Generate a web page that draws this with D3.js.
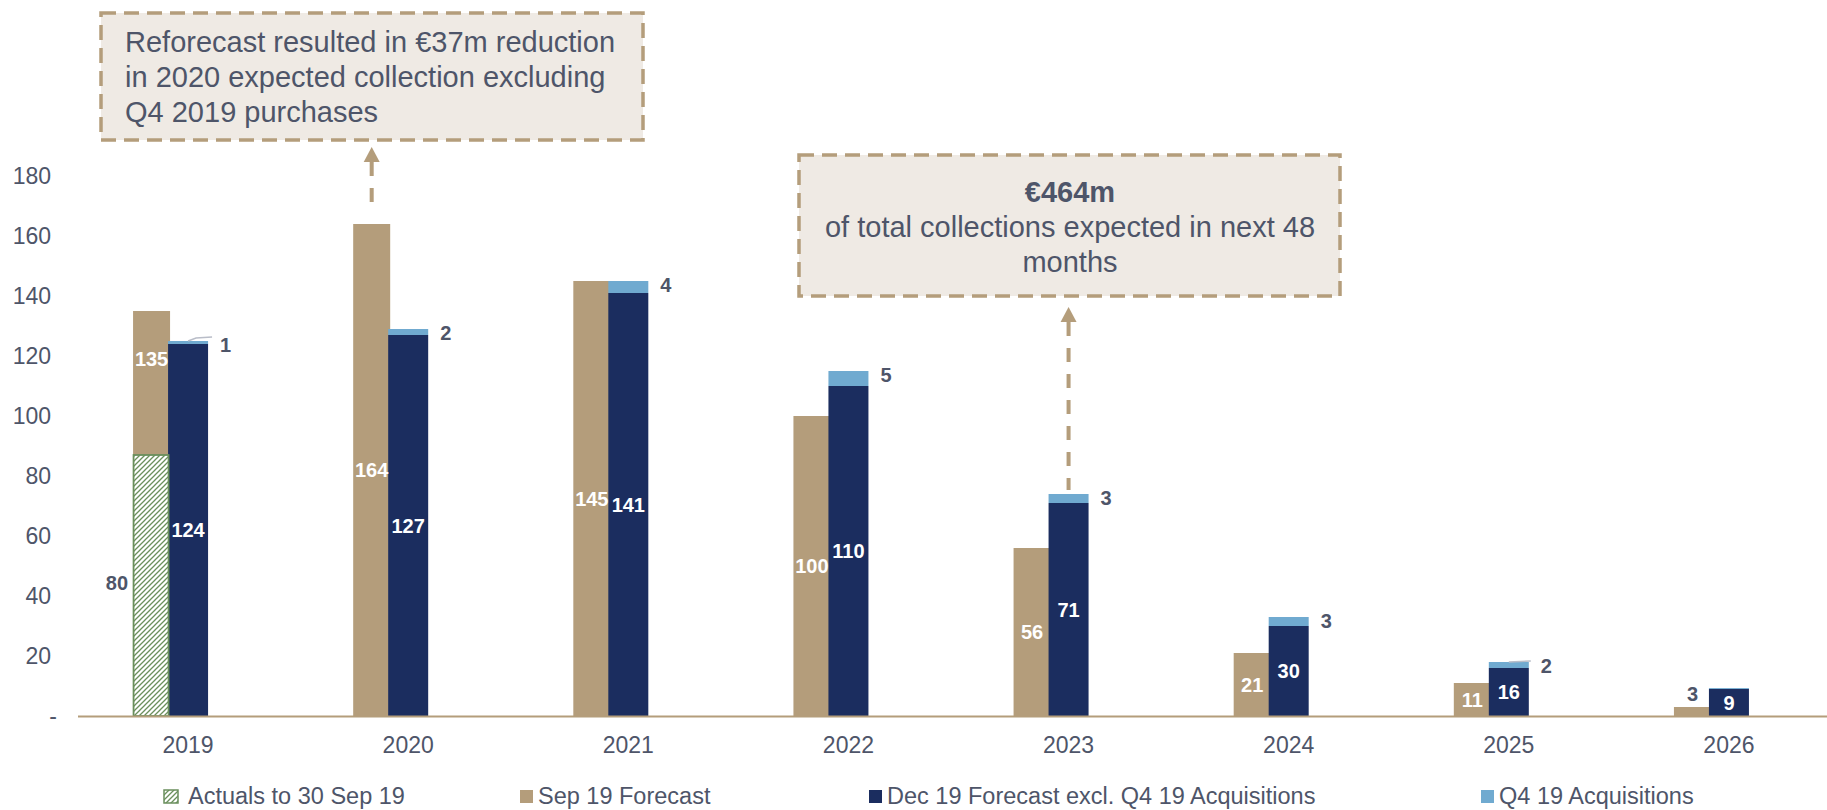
<!DOCTYPE html>
<html>
<head>
<meta charset="utf-8">
<script src="https://cdn.jsdelivr.net/npm/d3@7"></script>
<style>
  body { margin: 0; background: #fff; }
  svg { display: block; font-family: "Liberation Sans", Arial, sans-serif; }
  .tick-lbl { fill: #4e5569; font-size: 23px; }
  .lbl-in { fill: #fff; font-size: 20px; font-weight: bold; }
  .lbl-out { fill: #4e5569; font-size: 20px; font-weight: bold; }
  .note { fill: #4e5569; font-size: 29px; }
  .legend-txt { fill: #4e5569; font-size: 23.5px; }
</style>
</head>
<body>
<div id="chart"></div>
<script>
const years = ['2019', '2020', '2021', '2022', '2023', '2024', '2025', '2026'];
const sepForecast = [135, 164, 145, 100, 56, 21, 11, 3];
const decForecast = [124, 127, 141, 110, 71, 30, 16, 9];
const q4Acq = [1, 2, 4, 5, 3, 3, 2, 0.3];
const q4Labels = ['1', '2', '4', '5', '3', '3', '2', ''];
const actualsValue = [87];       // drawn height of the hatched bar (2019)
const actualsLabel = ['80'];
const yTicks = [0, 20, 40, 60, 80, 100, 120, 140, 160, 180];
const legendNames = ['Actuals to 30 Sep 19', 'Sep 19 Forecast', 'Dec 19 Forecast excl. Q4 19 Acquisitions', 'Q4 19 Acquisitions'];
const note1 = ['Reforecast resulted in €37m reduction', 'in 2020 expected collection excluding', 'Q4 2019 purchases'];
const note2 = ['€464m', 'of total collections expected in next 48', 'months'];

const W = 1827, H = 810;
const tan = '#b49d7b', navy = '#1b2d5f', lightBlue = '#70aad0', green = '#6a8f5c';

let svg = d3.select('#chart').append('svg')
    .attr('width', W)
    .attr('height', H);

let defs = svg.append('defs');
let pat = defs.append('pattern')
    .attr('id', 'hatch')
    .attr('patternUnits', 'userSpaceOnUse')
    .attr('width', 5)
    .attr('height', 5);
pat.append('rect').attr('width', 5).attr('height', 5).attr('fill', '#fff');
pat.append('path')
    .attr('d', 'M0,5 L5,0 M-1,1 L1,-1 M4,6 L6,4')
    .attr('stroke', green)
    .attr('stroke-width', 1.3);

let x = d3.scaleBand().domain(years).range([78, 1839]);
let y = d3.scaleLinear().domain([0, 180]).range([716, 176]);
const cx = d => x(d) + x.bandwidth() / 2;

// y tick labels
svg.append('g').selectAll('text')
    .data(yTicks)
    .join('text')
    .attr('class', 'tick-lbl')
    .attr('x', d => d === 0 ? 57 : 51)
    .attr('y', d => y(d) + 8)
    .attr('text-anchor', 'end')
    .text(d => d === 0 ? '-' : d);

// x labels
svg.append('g').selectAll('text')
    .data(years)
    .join('text')
    .attr('class', 'tick-lbl')
    .attr('x', d => cx(d))
    .attr('y', 753)
    .attr('text-anchor', 'middle')
    .text(d => d);

let plot = svg.append('g');

// Sep 19 forecast (tan)
plot.selectAll('rect.sep').data(years)
    .join('rect')
    .attr('class', 'sep')
    .attr('x', d => cx(d) - 55)
    .attr('width', 37)
    .attr('y', (d, i) => y(sepForecast[i]))
    .attr('height', (d, i) => y(0) - y(sepForecast[i]))
    .attr('fill', tan);

// Dec 19 forecast (navy)
plot.selectAll('rect.dec').data(years)
    .join('rect')
    .attr('class', 'dec')
    .attr('x', d => cx(d) - 20)
    .attr('width', 40)
    .attr('y', (d, i) => y(decForecast[i]))
    .attr('height', (d, i) => y(0) - y(decForecast[i]))
    .attr('fill', navy);

// Q4 acquisitions stacked on navy
plot.selectAll('rect.q4').data(years)
    .join('rect')
    .attr('class', 'q4')
    .attr('x', d => cx(d) - 20)
    .attr('width', 40)
    .attr('y', (d, i) => y(decForecast[i] + q4Acq[i]))
    .attr('height', (d, i) => y(decForecast[i]) - y(decForecast[i] + q4Acq[i]))
    .attr('fill', lightBlue);

// Actuals hatched bar
plot.selectAll('rect.act').data(actualsValue)
    .join('rect')
    .attr('class', 'act')
    .attr('x', cx(years[0]) - 54.5)
    .attr('width', 35)
    .attr('y', d => y(d))
    .attr('height', d => y(0) - y(d))
    .attr('fill', 'url(#hatch)')
    .attr('stroke', green)
    .attr('stroke-width', 1.8);

// baseline
svg.append('line')
    .attr('x1', 78).attr('x2', W)
    .attr('y1', y(0) + 0.5).attr('y2', y(0) + 0.5)
    .attr('stroke', tan)
    .attr('stroke-width', 2);

// labels: tan
plot.selectAll('text.sep').data(years)
    .join('text')
    .attr('class', (d, i) => sepForecast[i] < 6 ? 'sep lbl-out' : 'sep lbl-in')
    .attr('text-anchor', 'middle')
    .attr('x', d => cx(d) - 36.5)
    .attr('y', (d, i) => {
        let v = sepForecast[i];
        if (i === 0) return y(v) + 55;
        if (v < 6) return y(v) - 6;
        return (y(v) + y(0)) / 2 + 7;
    })
    .text((d, i) => sepForecast[i]);

// labels: navy
plot.selectAll('text.dec').data(years)
    .join('text')
    .attr('class', 'dec lbl-in')
    .attr('text-anchor', 'middle')
    .attr('x', d => cx(d))
    .attr('y', (d, i) => (y(decForecast[i]) + y(0)) / 2 + 7)
    .text((d, i) => decForecast[i]);

// labels: q4
plot.selectAll('text.q4').data(years)
    .join('text')
    .attr('class', 'q4 lbl-out')
    .attr('x', d => cx(d) + 32)
    .attr('y', (d, i) => y(decForecast[i] + q4Acq[i]) + 11)
    .text((d, i) => q4Labels[i]);

// leader lines for tiny Q4 segments
[0, 6].forEach(i => {
    let top = y(decForecast[i] + q4Acq[i]);
    plot.append('path')
        .attr('d', i === 0
            ? `M${cx(years[i])},${top} L${cx(years[i]) + 8},${top - 3} L${cx(years[i]) + 24},${top - 4}`
            : `M${cx(years[i])},${top} L${cx(years[i]) + 22},${top - 1}`)
        .attr('fill', 'none')
        .attr('stroke', '#b9bdc8')
        .attr('stroke-width', 1.5);
});

// actuals label
plot.selectAll('text.act').data(actualsValue)
    .join('text')
    .attr('class', 'act lbl-out')
    .attr('text-anchor', 'end')
    .attr('x', cx(years[0]) - 60)
    .attr('y', d => (y(d) + y(0)) / 2 + 4)
    .text((d, i) => actualsLabel[i]);

// annotation boxes
function noteBox(x0, y0, w, h) {
    svg.append('rect')
        .attr('x', x0).attr('y', y0)
        .attr('width', w).attr('height', h)
        .attr('fill', '#efeae4')
        .attr('stroke', tan)
        .attr('stroke-width', 3.5)
        .attr('stroke-dasharray', '15,8');
}
function arrowUp(ax, yTop, yBottom) {
    svg.append('line')
        .attr('x1', ax).attr('x2', ax)
        .attr('y1', yTop + 15).attr('y2', yBottom)
        .attr('stroke', tan)
        .attr('stroke-width', 4)
        .attr('stroke-dasharray', '14,12');
    svg.append('path')
        .attr('d', `M${ax},${yTop} L${ax + 8},${yTop + 15} L${ax - 8},${yTop + 15} Z`)
        .attr('fill', tan);
}

noteBox(101, 13, 542, 127);
svg.append('g').selectAll('text')
    .data(note1)
    .join('text')
    .attr('class', 'note')
    .attr('x', 125)
    .attr('y', (d, i) => 52 + i * 35)
    .text(d => d);
arrowUp(cx('2020') - 36.5, 147, y(sepForecast[1]) - 10);

noteBox(799, 155, 541, 141);
svg.append('g').selectAll('text')
    .data(note2)
    .join('text')
    .attr('class', 'note')
    .attr('x', 1070)
    .attr('y', (d, i) => 202 + i * 35)
    .attr('text-anchor', 'middle')
    .style('font-weight', (d, i) => i === 0 ? 'bold' : 'normal')
    .text(d => d);
arrowUp(cx('2023'), 307, y(decForecast[4] + q4Acq[4]) - 4);

// legend
const legendX = [164, 520, 869, 1481];
const legendTextDx = [24, 18, 18, 18];
const legendFill = ['url(#hatch)', tan, navy, lightBlue];
let legend = svg.append('g').selectAll('g')
    .data(legendNames)
    .join('g')
    .attr('transform', (d, i) => `translate(${legendX[i]},790)`);
legend.append('rect')
    .attr('width', (d, i) => i === 0 ? 14 : 13)
    .attr('height', 13)
    .attr('fill', (d, i) => legendFill[i])
    .attr('stroke', (d, i) => i === 0 ? green : 'none')
    .attr('stroke-width', 1.5);
legend.append('text')
    .attr('class', 'legend-txt')
    .attr('x', (d, i) => legendTextDx[i])
    .attr('y', 14)
    .text(d => d);
</script>
</body>
</html>
